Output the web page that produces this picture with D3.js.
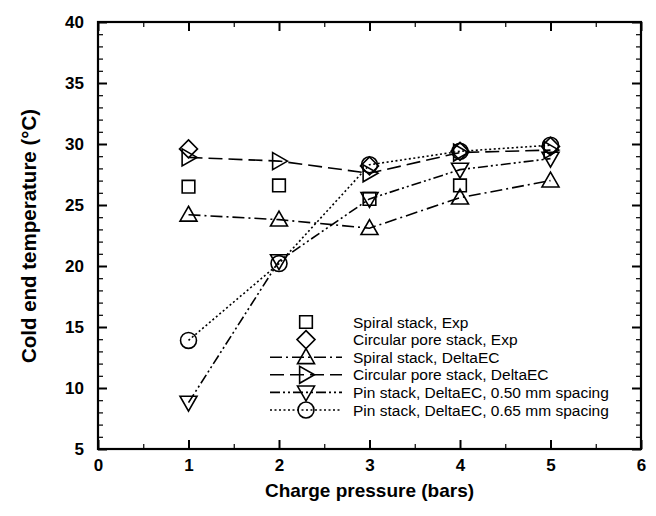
<!DOCTYPE html>
<html>
<head>
<meta charset="utf-8">
<script src="https://cdn.jsdelivr.net/npm/d3@7"></script>
<style>
  body { margin: 0; background: #fff; }
  svg { display: block; }
  text { font-family: "Liberation Sans", Arial, sans-serif; fill: #000; }
</style>
</head>
<body>
<div id="chart"></div>
<script>
// pressure (bars)
var pressure = [1, 2, 3, 4, 5];

// cold end temperatures (°C)
var spiralExp = [[1, 26.5], [2, 26.6], [3, 25.5], [4, 26.6]];
var circularExp = [[1, 29.6], [3, 28.2], [4, 29.4], [5, 29.8]];
var spiralDelta = [24.2, 23.8, 23.1, 25.6, 27.0];
var circularDelta = [28.9, 28.6, 27.6, 29.3, 29.5];
var pin050 = [8.8, 20.4, 25.5, 27.9, 28.8];
var pin065 = [13.9, 20.2, 28.3, 29.4, 29.9];

var xTicks = [0, 1, 2, 3, 4, 5, 6];
var yTicks = [5, 10, 15, 20, 25, 30, 35, 40];

var legendNames = [
  "Spiral stack, Exp",
  "Circular pore stack, Exp",
  "Spiral stack, DeltaEC",
  "Circular pore stack, DeltaEC",
  "Pin stack, DeltaEC, 0.50 mm spacing",
  "Pin stack, DeltaEC, 0.65 mm spacing"
];

var width = 656, height = 516;
var plot = { left: 98, right: 641, top: 22, bottom: 449 };

var svg = d3.select("#chart").append("svg")
  .attr("width", width)
  .attr("height", height);

var x = d3.scaleLinear().domain([0, 6]).range([plot.left, plot.right]);
var y = d3.scaleLinear().domain([5, 40]).range([plot.bottom, plot.top]);

// axes with inward ticks on all four sides
function box(axis, tr, major, minor, inner) {
  var g = svg.append("g").attr("transform", tr);
  g.call(axis.tickValues(minor).tickSize(-5).tickFormat(""));
  g.selectAll(".tick line").attr("stroke-width", 1.2);
  var g2 = svg.append("g").attr("transform", tr);
  g2.call(axis.tickValues(major).tickSize(-9).tickFormat(inner ? "" : d3.format("d")).tickPadding(10));
  g2.selectAll(".tick line").attr("stroke-width", 2);
  g2.selectAll(".tick text")
    .style("font-size", "17px").style("font-weight", "bold")
    .style("font-family", "'Liberation Sans', Arial, sans-serif");
  g.select(".domain").remove();
  g2.select(".domain").remove();
  return g2;
}

var xMinor = d3.range(0.5, 6, 1);
var yMinor = d3.range(5, 40, 1).filter(function (d) { return d % 5 !== 0; });

box(d3.axisBottom(x), "translate(0," + plot.bottom + ")", xTicks, xMinor, false);
box(d3.axisTop(x), "translate(0," + plot.top + ")", xTicks, xMinor, true);
var yl = box(d3.axisLeft(y), "translate(" + plot.left + ",0)", yTicks, yMinor, false);
box(d3.axisRight(y), "translate(" + plot.right + ",0)", yTicks, yMinor, true);
yl.selectAll(".tick text").attr("x", -14);

svg.append("rect")
  .attr("x", plot.left).attr("y", plot.top)
  .attr("width", plot.right - plot.left).attr("height", plot.bottom - plot.top)
  .attr("fill", "none").attr("stroke", "#000").attr("stroke-width", 2.2);

// axis titles
svg.append("text")
  .attr("x", (plot.left + plot.right) / 2).attr("y", 497)
  .attr("text-anchor", "middle")
  .style("font-size", "19px").style("font-weight", "bold")
  .text("Charge pressure (bars)");

svg.append("text")
  .attr("transform", "translate(36," + 236 + ") rotate(-90)")
  .attr("text-anchor", "middle")
  .style("font-size", "20.5px").style("font-weight", "bold")
  .text("Cold end temperature (°C)");

// marker symbols
var sq = d3.symbol().type(d3.symbolSquare).size(160);
var circ = d3.symbol().type(d3.symbolCircle).size(200);
function tri(dir) {
  // triangle centred on 0,0; dir: up, down, right
  var s = 8.5;
  if (dir === "up") return "M0," + (-s) + "L" + s + "," + (s * 0.75) + "L" + (-s) + "," + (s * 0.75) + "Z";
  if (dir === "down") return "M0," + s + "L" + s + "," + (-s * 0.75) + "L" + (-s) + "," + (-s * 0.75) + "Z";
  return "M" + s + ",0L" + (-s * 0.75) + "," + (-s) + "L" + (-s * 0.75) + "," + s + "Z";
}
var diamond = "M0,-9L9,0L0,9L-9,0Z";

var markers = [
  sq(), diamond, tri("up"), tri("right"), tri("down"), circ()
];
var dashes = [null, null, "12,4,2,4", "14,6", "10,3,2,3,2,3", "2,2.5"];

var series = [
  spiralExp,
  circularExp,
  pressure.map(function (p, i) { return [p, spiralDelta[i]]; }),
  pressure.map(function (p, i) { return [p, circularDelta[i]]; }),
  pressure.map(function (p, i) { return [p, pin050[i]]; }),
  pressure.map(function (p, i) { return [p, pin065[i]]; })
];

var line = d3.line().x(function (d) { return x(d[0]); }).y(function (d) { return y(d[1]); });

series.forEach(function (s, i) {
  if (dashes[i]) {
    svg.append("path")
      .attr("d", line(s))
      .attr("fill", "none").attr("stroke", "#000").attr("stroke-width", 1.6)
      .attr("stroke-dasharray", dashes[i]);
  }
});

series.forEach(function (s, i) {
  svg.selectAll(".m" + i).data(s).enter().append("path")
    .attr("class", "m" + i)
    .attr("d", markers[i])
    .attr("transform", function (d) { return "translate(" + x(d[0]) + "," + y(d[1]) + ")"; })
    .attr("fill", "none").attr("stroke", "#000").attr("stroke-width", 1.6);
});

// legend
var leg = svg.append("g");
legendNames.forEach(function (name, i) {
  var ly = 322 + i * 17.6;
  if (dashes[i]) {
    leg.append("line")
      .attr("x1", 270).attr("x2", 342).attr("y1", ly).attr("y2", ly)
      .attr("stroke", "#000").attr("stroke-width", 1.6)
      .attr("stroke-dasharray", dashes[i]);
  }
  leg.append("path")
    .attr("d", markers[i])
    .attr("transform", "translate(306," + ly + ")")
    .attr("fill", "none").attr("stroke", "#000").attr("stroke-width", 1.6);
  leg.append("text")
    .attr("x", 353).attr("y", ly + 5.5)
    .style("font-size", "15.5px")
    .text(name);
});
</script>
</body>
</html>
